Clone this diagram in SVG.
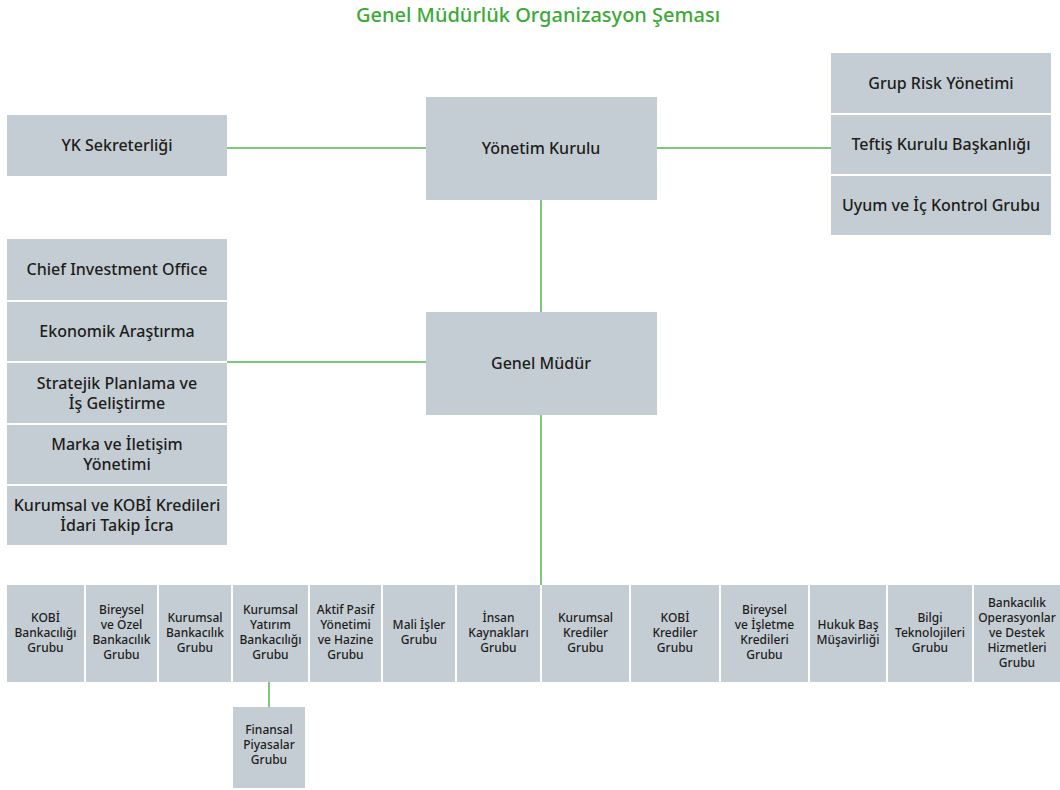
<svg xmlns="http://www.w3.org/2000/svg" width="1060" height="790" viewBox="0 0 1060 790">
<style>
.box{fill:#c5cdd4}
.t{font-family:"Noto Sans","Liberation Sans",sans-serif;font-size:16px;font-weight:500;fill:#1d1d1b;text-anchor:middle}
.s{font-family:"Noto Sans","Liberation Sans",sans-serif;font-size:12px;font-weight:500;fill:#1d1d1b;text-anchor:middle}
.title{font-family:"Noto Sans","Liberation Sans",sans-serif;font-size:20px;font-weight:500;fill:#3aaa35;text-anchor:middle}
.ln{stroke:#7ec87a;stroke-width:2;fill:none}
</style>
<rect width="1060" height="790" fill="#ffffff"/>
<text class="title" x="538" y="22">Genel Müdürlük Organizasyon Şeması</text>
<g id="connectors">
<line class="ln" x1="227" y1="148" x2="426" y2="148"/>
<line class="ln" x1="657" y1="148" x2="831" y2="148"/>
<line class="ln" x1="541" y1="200" x2="541" y2="312"/>
<line class="ln" x1="227" y1="362" x2="426" y2="362"/>
<line class="ln" x1="541" y1="415" x2="541" y2="585"/>
<line class="ln" x1="269" y1="682" x2="269" y2="707"/>
</g>
<g id="yk-sekreterligi"><rect class="box" x="7" y="115" width="220" height="61"/><text class="t" x="117" y="151">YK Sekreterliği</text></g>
<g id="yonetim-kurulu"><rect class="box" x="426" y="97" width="231" height="103"/><text class="t" x="541" y="154">Yönetim Kurulu</text></g>
<g id="genel-mudur"><rect class="box" x="426" y="312" width="231" height="103"/><text class="t" x="541" y="369">Genel Müdür</text></g>
<g id="grup-risk"><rect class="box" x="831" y="53" width="220" height="60"/><text class="t" x="941" y="89">Grup Risk Yönetimi</text></g>
<g id="teftis"><rect class="box" x="831" y="115" width="220" height="59"/><text class="t" x="941" y="150">Teftiş Kurulu Başkanlığı</text></g>
<g id="uyum"><rect class="box" x="831" y="176" width="220" height="59"/><text class="t" x="941" y="211">Uyum ve İç Kontrol Grubu</text></g>
<g id="cio"><rect class="box" x="7" y="239" width="220" height="61"/><text class="t" x="117" y="275">Chief Investment Office</text></g>
<g id="ekonomik"><rect class="box" x="7" y="302" width="220" height="59"/><text class="t" x="117" y="337">Ekonomik Araştırma</text></g>
<g id="stratejik"><rect class="box" x="7" y="363" width="220" height="60"/><text class="t" x="117" y="389">Stratejik Planlama ve</text><text class="t" x="117" y="409">İş Geliştirme</text></g>
<g id="marka"><rect class="box" x="7" y="425" width="220" height="59"/><text class="t" x="117" y="450">Marka ve İletişim</text><text class="t" x="117" y="470">Yönetimi</text></g>
<g id="kurumsal-kobi"><rect class="box" x="7" y="486" width="220" height="59"/><text class="t" x="117" y="511">Kurumsal ve KOBİ Kredileri</text><text class="t" x="117" y="531">İdari Takip İcra</text></g>
<g id="b1"><rect class="box" x="7" y="585" width="77" height="97"/><text class="s" x="45.5" y="622">KOBİ</text><text class="s" x="45.5" y="637">Bankacılığı</text><text class="s" x="45.5" y="652">Grubu</text></g>
<g id="b2"><rect class="box" x="86" y="585" width="71" height="97"/><text class="s" x="121.5" y="614">Bireysel</text><text class="s" x="121.5" y="629">ve Özel</text><text class="s" x="121.5" y="644">Bankacılık</text><text class="s" x="121.5" y="659">Grubu</text></g>
<g id="b3"><rect class="box" x="159" y="585" width="72" height="97"/><text class="s" x="195" y="622">Kurumsal</text><text class="s" x="195" y="637">Bankacılık</text><text class="s" x="195" y="652">Grubu</text></g>
<g id="b4"><rect class="box" x="233" y="585" width="75" height="97"/><text class="s" x="270.5" y="614">Kurumsal</text><text class="s" x="270.5" y="629">Yatırım</text><text class="s" x="270.5" y="644">Bankacılığı</text><text class="s" x="270.5" y="659">Grubu</text></g>
<g id="b5"><rect class="box" x="310" y="585" width="71" height="97"/><text class="s" x="345.5" y="614">Aktif Pasif</text><text class="s" x="345.5" y="629">Yönetimi</text><text class="s" x="345.5" y="644">ve Hazine</text><text class="s" x="345.5" y="659">Grubu</text></g>
<g id="b6"><rect class="box" x="383" y="585" width="72" height="97"/><text class="s" x="419" y="629">Mali İşler</text><text class="s" x="419" y="644">Grubu</text></g>
<g id="b7"><rect class="box" x="457" y="585" width="83" height="97"/><text class="s" x="498.5" y="622">İnsan</text><text class="s" x="498.5" y="637">Kaynakları</text><text class="s" x="498.5" y="652">Grubu</text></g>
<g id="b8"><rect class="box" x="542" y="585" width="87" height="97"/><text class="s" x="585.5" y="622">Kurumsal</text><text class="s" x="585.5" y="637">Krediler</text><text class="s" x="585.5" y="652">Grubu</text></g>
<g id="b9"><rect class="box" x="631" y="585" width="88" height="97"/><text class="s" x="675" y="622">KOBİ</text><text class="s" x="675" y="637">Krediler</text><text class="s" x="675" y="652">Grubu</text></g>
<g id="b10"><rect class="box" x="721" y="585" width="87" height="97"/><text class="s" x="764.5" y="614">Bireysel</text><text class="s" x="764.5" y="629">ve İşletme</text><text class="s" x="764.5" y="644">Kredileri</text><text class="s" x="764.5" y="659">Grubu</text></g>
<g id="b11"><rect class="box" x="810" y="585" width="76" height="97"/><text class="s" x="848" y="629">Hukuk Baş</text><text class="s" x="848" y="644">Müşavirliği</text></g>
<g id="b12"><rect class="box" x="888" y="585" width="84" height="97"/><text class="s" x="930" y="622">Bilgi</text><text class="s" x="930" y="637">Teknolojileri</text><text class="s" x="930" y="652">Grubu</text></g>
<g id="b13"><rect class="box" x="974" y="585" width="86" height="97"/><text class="s" x="1017" y="607">Bankacılık</text><text class="s" x="1017" y="622">Operasyonlar</text><text class="s" x="1017" y="637">ve Destek</text><text class="s" x="1017" y="652">Hizmetleri</text><text class="s" x="1017" y="667">Grubu</text></g>
<g id="finansal"><rect class="box" x="233" y="707" width="72" height="81"/><text class="s" x="269" y="734">Finansal</text><text class="s" x="269" y="749">Piyasalar</text><text class="s" x="269" y="764">Grubu</text></g>
</svg>
